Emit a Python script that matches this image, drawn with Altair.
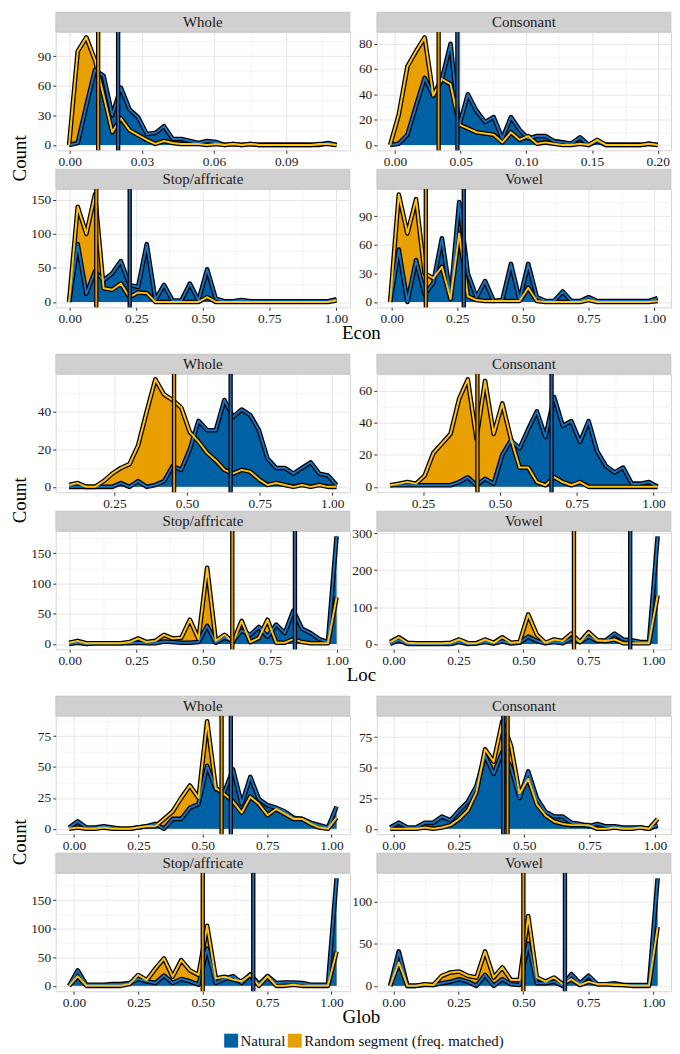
import json
import altair as alt
import pandas as pd

FONT = "Liberation Serif"
NAT = "Natural"
RND = "Random segment (freq. matched)"
BLUE_FILL, ORANGE_FILL = "#0061A4", "#E8A000"
BLUE_LINE, ORANGE_LINE = "#1373C2", "#FFC20E"
BLUE_RULE, ORANGE_RULE = "#2A66AE", "#E39A00"

W, H = 296, 119

# ---------------- data (frequency polygons) ----------------
# Econ
ECON_WHOLE_X0, ECON_WHOLE_STEP = -0.0003, 0.00359
ECON_WHOLE_NAT = [0, 2, 40, 76, 70, 30, 58, 36, 28, 11, 12, 19, 6, 6, 4, 2, 4, 3, 0, 1, 0, 1, 0, 0, 0, 0, 0, 0, 0, 0, 2, 0]
ECON_WHOLE_RND = [0, 95, 109, 86, 50, 13, 27, 15, 10, 5, 1, 4, 2, 1, 1, 1, 0, 1, 0, 1, 0, 1, 0, 0, 0, 0, 0, 0, 0, 1, 1, 0]
ECON_WHOLE_MEAN = [0.0201, 0.0118]

ECON_CONS_X0, ECON_CONS_STEP = -0.0037, 0.00657
ECON_CONS_NAT = [0, 1, 8, 31, 53, 39, 52, 80, 15, 40, 27, 18, 22, 5, 22, 12, 5, 7, 7, 3, 2, 1, 6, 0, 3, 0, 0, 0, 0, 0, 1, 0]
ECON_CONS_RND = [0, 24, 62, 74, 85, 39, 52, 48, 16, 13, 10, 9, 8, 2, 10, 4, 7, 1, 2, 1, 0, 0, 1, 0, 4, 0, 0, 0, 0, 0, 1, 0]
ECON_CONS_MEAN = [0.0475, 0.0332]

ECON_STOP_X0, ECON_STOP_STEP = -0.002, 0.0324
ECON_STOP_NAT = [0, 85, 12, 45, 32, 42, 60, 25, 22, 85, 3, 25, 2, 2, 27, 2, 48, 5, 1, 1, 3, 1, 1, 1, 1, 1, 1, 1, 1, 1, 1, 4]
ECON_STOP_RND = [0, 140, 100, 158, 20, 18, 27, 7, 14, 13, 0, 0, 0, 0, 0, 0, 7, 0, 0, 0, 0, 0, 0, 0, 0, 0, 0, 0, 0, 0, 0, 2]
ECON_STOP_MEAN = [0.2256, 0.100]

ECON_VOW_X0, ECON_VOW_STEP = -0.006, 0.0329
ECON_VOW_NAT = [0, 55, 0, 44, 8, 20, 67, 5, 105, 30, 5, 22, 1, 2, 40, 2, 40, 5, 1, 1, 11, 1, 1, 5, 1, 1, 1, 1, 1, 1, 1, 4]
ECON_VOW_RND = [0, 113, 72, 108, 30, 25, 37, 3, 72, 6, 2, 1, 1, 1, 1, 1, 15, 1, 0, 0, 0, 0, 0, 2, 0, 0, 0, 0, 0, 0, 0, 1]
ECON_VOW_MEAN = [0.2748, 0.130]

# Loc
LOC_WHOLE_X0, LOC_WHOLE_STEP = 0.094, 0.0297
LOC_WHOLE_NAT = [0, 0, 0, 0, 0, 0, 2, 0, 3, 0, 1, 3, 11, 9, 20, 35, 30, 30, 46, 37, 41, 38, 30, 15, 10, 10, 7, 10, 13, 7, 6, 1]
LOC_WHOLE_RND = [1, 2, 0, 0, 3, 7, 10, 12, 22, 40, 57, 49, 46, 42, 29, 24, 18, 14, 9, 7, 9, 8, 4, 1, 2, 1, 0, 1, 0, 1, 0, 0]
LOC_WHOLE_MEAN = [0.650, 0.4553]

LOC_CONS_X0, LOC_CONS_STEP = 0.1428, 0.02808
LOC_CONS_NAT = [1, 1, 1, 1, 1, 1, 1, 1, 3, 6, 1, 5, 2, 20, 29, 24, 36, 47, 31, 56, 38, 41, 28, 41, 22, 13, 9, 12, 2, 2, 3, 0]
LOC_CONS_RND = [1, 2, 3, 2, 7, 21, 27, 33, 55, 67, 30, 66, 33, 52, 30, 12, 12, 3, 1, 6, 3, 1, 3, 0, 0, 0, 0, 0, 0, 0, 0, 0]
LOC_CONS_MEAN = [0.668, 0.4268]

LOC_STOP_X0, LOC_STOP_STEP = -0.002, 0.0323
LOC_STOP_NAT = [0, 2, 0, 1, 1, 1, 1, 1, 2, 1, 1, 4, 3, 2, 2, 3, 30, 2, 10, 5, 22, 15, 28, 12, 32, 18, 55, 25, 18, 8, 3, 178]
LOC_STOP_RND = [2, 5, 1, 1, 1, 1, 1, 3, 9, 3, 5, 15, 9, 10, 40, 8, 126, 5, 15, 3, 38, 3, 10, 40, 2, 2, 8, 3, 1, 1, 1, 77]
LOC_STOP_MEAN = [0.8435, 0.609]

LOC_VOW_X0, LOC_VOW_STEP = -0.0126, 0.0332
LOC_VOW_NAT = [0, 10, 0, 0, 0, 0, 0, 0, 5, 0, 1, 5, 1, 7, 1, 3, 20, 8, 2, 5, 2, 15, 5, 20, 8, 10, 28, 12, 10, 5, 5, 292]
LOC_VOW_RND = [5, 18, 3, 2, 2, 2, 2, 3, 12, 2, 2, 12, 3, 18, 3, 5, 80, 25, 3, 12, 8, 28, 5, 32, 10, 8, 12, 2, 2, 2, 2, 132]
LOC_VOW_MEAN = [0.911, 0.6947]

# Glob
GLOB_WHOLE_X0, GLOB_WHOLE_STEP = -0.019, 0.0335
GLOB_WHOLE_NAT = [1, 6, 1, 1, 2, 1, 0, 0, 1, 2, 4, 0, 8, 8, 17, 20, 51, 32, 30, 48, 20, 42, 24, 19, 17, 14, 9, 8, 5, 3, 1, 18]
GLOB_WHOLE_RND = [0, 1, 0, 0, 1, 0, 0, 0, 1, 2, 2, 8, 14, 25, 35, 25, 87, 33, 28, 22, 13, 26, 20, 11, 16, 12, 8, 8, 4, 1, 0, 9]
GLOB_WHOLE_MEAN = [0.609, 0.573]

GLOB_CONS_X0, GLOB_CONS_STEP = -0.0126, 0.033
GLOB_CONS_NAT = [1, 5, 1, 1, 5, 5, 10, 7, 15, 22, 35, 60, 45, 63, 50, 25, 47, 25, 14, 10, 10, 5, 4, 2, 4, 2, 2, 1, 1, 1, 0, 3]
GLOB_CONS_RND = [0, 0, 0, 0, 1, 0, 1, 3, 8, 15, 30, 65, 55, 88, 68, 29, 41, 20, 11, 6, 4, 3, 3, 3, 0, 0, 1, 0, 0, 1, 0, 8]
GLOB_CONS_MEAN = [0.420, 0.4365]

GLOB_STOP_X0, GLOB_STOP_STEP = -0.019, 0.0335
GLOB_STOP_NAT = [0, 27, 2, 2, 2, 3, 3, 5, 12, 8, 5, 18, 5, 12, 8, 2, 65, 5, 12, 17, 5, 20, 3, 17, 5, 6, 6, 5, 2, 2, 2, 188]
GLOB_STOP_RND = [0, 17, 0, 0, 0, 0, 0, 3, 19, 10, 30, 48, 16, 45, 27, 19, 105, 13, 16, 11, 8, 19, 0, 17, 0, 0, 2, 0, 0, 0, 0, 60]
GLOB_STOP_MEAN = [0.696, 0.500]

GLOB_VOW_X0, GLOB_VOW_STEP = -0.0126, 0.0332
GLOB_VOW_NAT = [0, 41, 0, 0, 1, 1, 3, 5, 8, 5, 0, 13, 0, 8, 2, 1, 50, 3, 3, 5, 0, 14, 3, 12, 2, 2, 3, 1, 1, 1, 1, 128]
GLOB_VOW_RND = [0, 28, 0, 0, 2, 1, 12, 16, 17, 12, 10, 41, 10, 22, 7, 7, 83, 10, 5, 10, 2, 8, 1, 5, 2, 2, 1, 1, 0, 0, 0, 70]
GLOB_VOW_MEAN = [0.660, 0.500]

X_TICKS_ECON_WHOLE = [0, 0.03, 0.06, 0.09]
X_TICKS_ECON_CONS = [0, 0.05, 0.10, 0.15, 0.20]
X_TICKS_UNIT = [0, 0.25, 0.5, 0.75, 1.0]
X_TICKS_LOC_TOP = [0.25, 0.5, 0.75, 1.0]

Y_TICKS = {
    "econ_whole": [0, 30, 60, 90], "econ_cons": [0, 20, 40, 60, 80],
    "econ_stop": [0, 50, 100, 150], "econ_vow": [0, 30, 60, 90],
    "loc_whole": [0, 20, 40], "loc_cons": [0, 20, 40, 60],
    "loc_stop": [0, 50, 100, 150], "loc_vow": [0, 100, 200, 300],
    "glob_whole": [0, 25, 50, 75], "glob_cons": [0, 25, 50, 75],
    "glob_stop": [0, 50, 100, 150], "glob_vow": [0, 50, 100],
}

FILL = alt.Fill(
    "group:N",
    scale=alt.Scale(domain=[NAT, RND], range=[BLUE_FILL, ORANGE_FILL]),
    legend=alt.Legend(
        orient="none", legendX=169, legendY=1007, direction="horizontal",
        title=None, symbolType="square", symbolSize=196, symbolStrokeWidth=0,
        symbolOpacity=1, labelFont=FONT, labelFontSize=15, labelColor="#111111",
        labelLimit=400, labelOffset=2, columnPadding=2, padding=0,
    ),
)


def with_minor(major, lo, hi):
    step = major[1] - major[0]
    cand = [major[0] - step / 2] + list(major) + [m + step / 2 for m in major]
    return sorted({round(v, 6) for v in cand if lo <= v <= hi})


def make_axis(major, lo, hi, fmt, pad):
    major = [round(v, 6) for v in major]
    vals = with_minor(major, lo, hi)
    test = f"indexof({json.dumps(major)}, datum.value) < 0"
    return alt.Axis(
        values=vals, format=fmt, title=None,
        labelExpr=f"{test} ? '' : datum.label",
        grid=True,
        gridColor={"condition": {"test": test, "value": "#F4F4F4"}, "value": "#E6E6E6"},
        tickOpacity={"condition": {"test": test, "value": 0}, "value": 1},
        domain=False, tickSize=3, tickColor="#333333", tickWidth=1,
        labelFont=FONT, labelFontSize=13.5, labelColor="#1A1A1A", labelPadding=pad,
        labelFlush=False, labelOverlap=False,
    )


def panel(label, x0, step, nat, rnd, means, xticks, yticks):
    xs = [x0 + step * i for i in range(len(nat))]
    df = pd.DataFrame({
        "x": xs + xs,
        "n": list(nat) + list(rnd),
        "group": [NAT] * len(nat) + [RND] * len(rnd),
    })
    lo, hi = xs[0], xs[-1]
    r = hi - lo
    xdom = [lo - 0.05 * r, hi + 0.05 * r]
    m = max(max(nat), max(rnd))
    ydom = [-0.05 * m, 1.05 * m]
    ex = alt.X("x:Q", scale=alt.Scale(domain=xdom, nice=False, zero=False),
               axis=make_axis(xticks, xdom[0], xdom[1], ".2f", 1))
    ey = alt.Y("n:Q", scale=alt.Scale(domain=ydom, nice=False, zero=False),
               axis=make_axis(yticks, ydom[0], ydom[1], "d", 2))
    base = alt.Chart(df)
    is_nat = alt.datum.group == NAT
    is_rnd = alt.datum.group == RND
    area_r = base.transform_filter(is_rnd).mark_area(opacity=1).encode(
        x=ex, y=ey, y2=alt.datum(0), fill=FILL)
    area_n = base.transform_filter(is_nat).mark_area(opacity=1).encode(
        x=ex, y=ey, y2=alt.datum(0), fill=FILL)
    line_blk = base.mark_line(color="black", strokeWidth=4.6, strokeJoin="round").encode(
        x=ex, y=ey, detail="group:N")
    line_n = base.transform_filter(is_nat).mark_line(
        color=BLUE_LINE, strokeWidth=2.0, strokeJoin="round").encode(x=ex, y=ey)
    line_r = base.transform_filter(is_rnd).mark_line(
        color=ORANGE_LINE, strokeWidth=2.0, strokeJoin="round").encode(x=ex, y=ey)

    mdf = pd.DataFrame({"x": list(means), "group": [NAT, RND]})
    mbase = alt.Chart(mdf)
    rule_blk = mbase.mark_rule(color="black", strokeWidth=4.4).encode(x=ex)
    rule_n = mbase.transform_filter(is_nat).mark_rule(color=BLUE_RULE, strokeWidth=1.9).encode(x=ex)
    rule_r = mbase.transform_filter(is_rnd).mark_rule(color=ORANGE_RULE, strokeWidth=1.9).encode(x=ex)

    sdf = pd.DataFrame({"label": [label]})
    strip_rect = alt.Chart(sdf).mark_rect(fill="#D0D0D0", stroke="#C0C0C0", strokeWidth=0.6).encode(
        x=alt.value(0), x2=alt.value(W), y=alt.value(-20), y2=alt.value(0))
    strip_text = alt.Chart(sdf).mark_text(
        font=FONT, fontSize=15, color="#1A1A1A", align="center", baseline="middle").encode(
        x=alt.value(W / 2), y=alt.value(-10), text="label:N")

    return alt.layer(strip_rect, strip_text, area_r, area_n, line_blk, line_n, line_r,
                     rule_blk, rule_n, rule_r).properties(width=W, height=H)


def block(panels, xtitle):
    grid = alt.concat(*panels, columns=2, spacing={"row": 39, "column": 27}, bounds="flush").properties(
        title=alt.TitleParams("Count", orient="left", anchor="middle", font=FONT,
                              fontSize=19, fontWeight="normal", color="#000000", offset=0, dx=10))
    return alt.vconcat(grid, title=alt.TitleParams(
        xtitle, orient="bottom", anchor="middle", font=FONT, fontSize=19,
        fontWeight="normal", color="#000000", offset=-1, dx=20))


econ = block([
    panel("Whole", ECON_WHOLE_X0, ECON_WHOLE_STEP, ECON_WHOLE_NAT, ECON_WHOLE_RND, ECON_WHOLE_MEAN,
          X_TICKS_ECON_WHOLE, Y_TICKS["econ_whole"]),
    panel("Consonant", ECON_CONS_X0, ECON_CONS_STEP, ECON_CONS_NAT, ECON_CONS_RND, ECON_CONS_MEAN,
          X_TICKS_ECON_CONS, Y_TICKS["econ_cons"]),
    panel("Stop/affricate", ECON_STOP_X0, ECON_STOP_STEP, ECON_STOP_NAT, ECON_STOP_RND, ECON_STOP_MEAN,
          X_TICKS_UNIT, Y_TICKS["econ_stop"]),
    panel("Vowel", ECON_VOW_X0, ECON_VOW_STEP, ECON_VOW_NAT, ECON_VOW_RND, ECON_VOW_MEAN,
          X_TICKS_UNIT, Y_TICKS["econ_vow"]),
], "Econ")

loc = block([
    panel("Whole", LOC_WHOLE_X0, LOC_WHOLE_STEP, LOC_WHOLE_NAT, LOC_WHOLE_RND, LOC_WHOLE_MEAN,
          X_TICKS_LOC_TOP, Y_TICKS["loc_whole"]),
    panel("Consonant", LOC_CONS_X0, LOC_CONS_STEP, LOC_CONS_NAT, LOC_CONS_RND, LOC_CONS_MEAN,
          X_TICKS_LOC_TOP, Y_TICKS["loc_cons"]),
    panel("Stop/affricate", LOC_STOP_X0, LOC_STOP_STEP, LOC_STOP_NAT, LOC_STOP_RND, LOC_STOP_MEAN,
          X_TICKS_UNIT, Y_TICKS["loc_stop"]),
    panel("Vowel", LOC_VOW_X0, LOC_VOW_STEP, LOC_VOW_NAT, LOC_VOW_RND, LOC_VOW_MEAN,
          X_TICKS_UNIT, Y_TICKS["loc_vow"]),
], "Loc")

glob = block([
    panel("Whole", GLOB_WHOLE_X0, GLOB_WHOLE_STEP, GLOB_WHOLE_NAT, GLOB_WHOLE_RND, GLOB_WHOLE_MEAN,
          X_TICKS_UNIT, Y_TICKS["glob_whole"]),
    panel("Consonant", GLOB_CONS_X0, GLOB_CONS_STEP, GLOB_CONS_NAT, GLOB_CONS_RND, GLOB_CONS_MEAN,
          X_TICKS_UNIT, Y_TICKS["glob_cons"]),
    panel("Stop/affricate", GLOB_STOP_X0, GLOB_STOP_STEP, GLOB_STOP_NAT, GLOB_STOP_RND, GLOB_STOP_MEAN,
          X_TICKS_UNIT, Y_TICKS["glob_stop"]),
    panel("Vowel", GLOB_VOW_X0, GLOB_VOW_STEP, GLOB_VOW_NAT, GLOB_VOW_RND, GLOB_VOW_MEAN,
          X_TICKS_UNIT, Y_TICKS["glob_vow"]),
], "Glob")

chart = alt.vconcat(econ, loc, glob, spacing=10).properties(
    padding={"left": 3, "top": 0, "right": 0, "bottom": 0}).configure(
    font=FONT).configure_view(stroke="#D6D6D6", strokeWidth=1, fill="white")

chart.save("out.html", embed_options={"renderer": "svg", "actions": False})
